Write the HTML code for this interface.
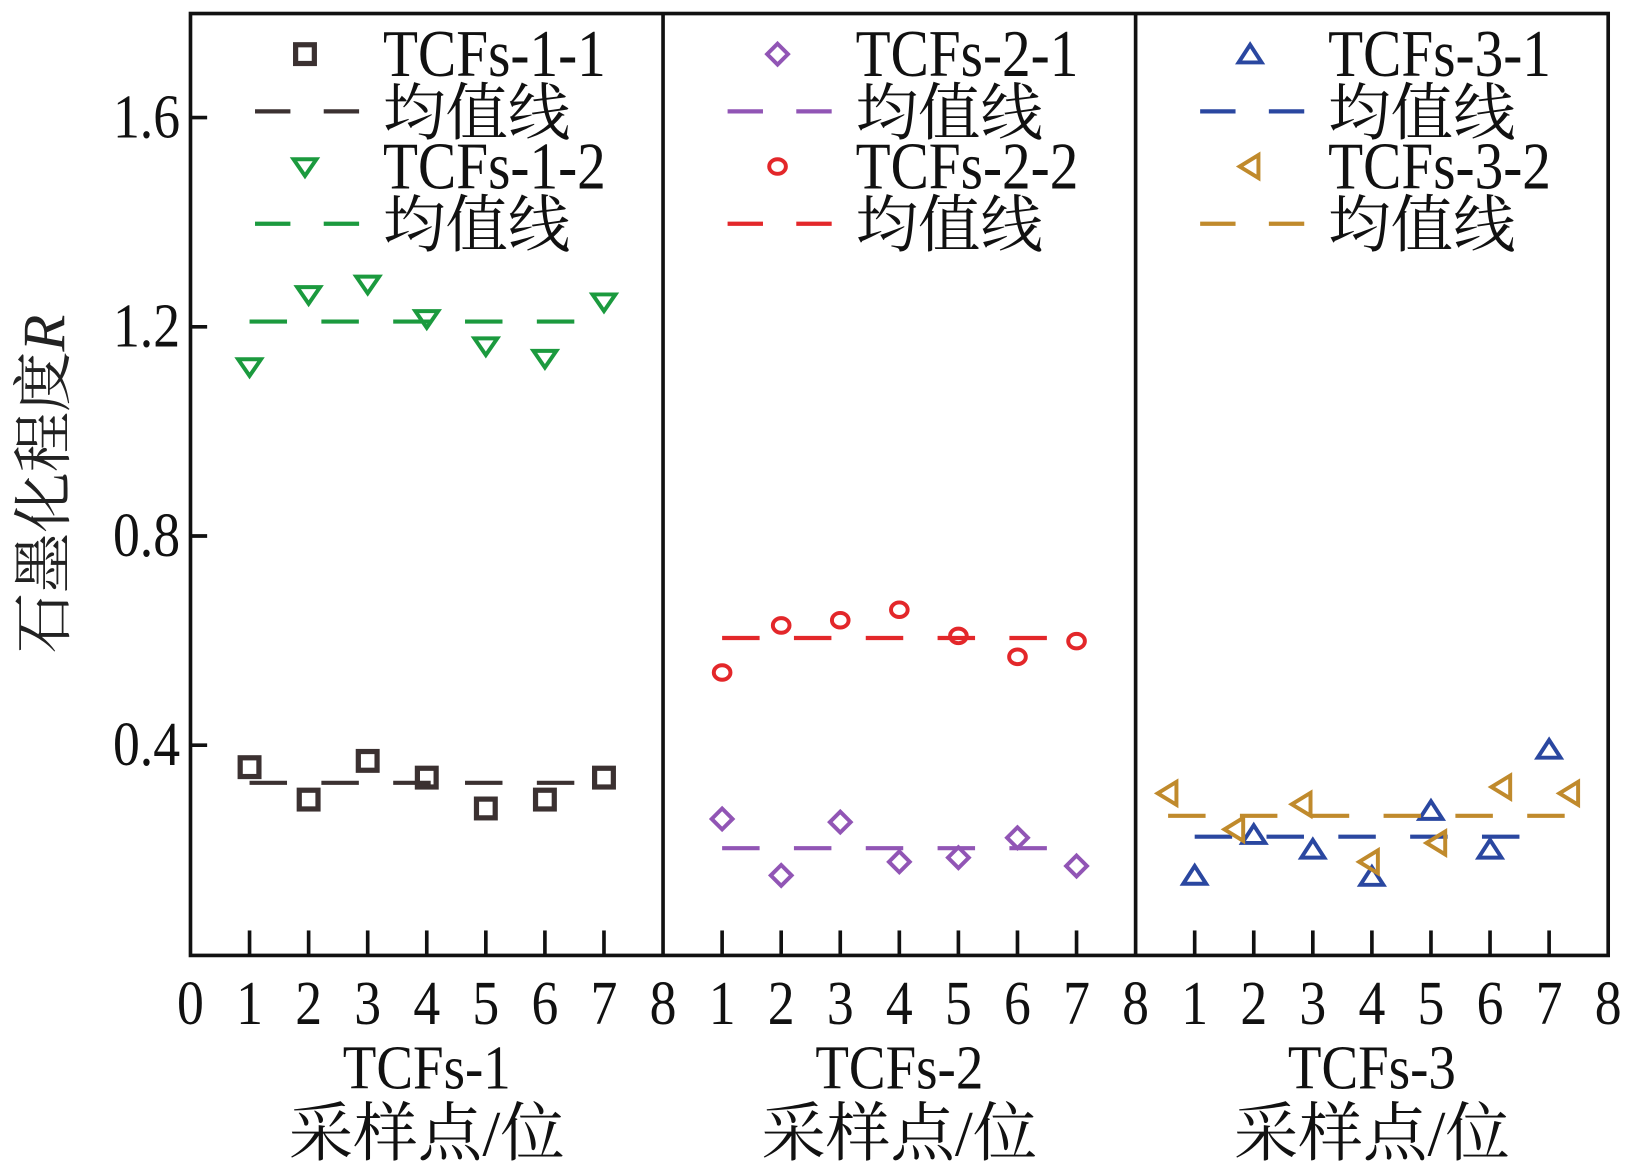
<!DOCTYPE html>
<html><head><meta charset="utf-8"><style>html,body{margin:0;padding:0;background:#fff}svg{display:block}</style></head>
<body>
<svg id="chart" width="1629" height="1174" viewBox="0 0 1565 1128" preserveAspectRatio="none" xmlns="http://www.w3.org/2000/svg" font-family="'Liberation Serif','Noto Serif CJK SC',serif"></svg>
<script>
const panelNames = ["TCFs-1","TCFs-2","TCFs-3"];
const xs = [1,2,3,4,5,6,7];
const s11 = [0.358,0.296,0.370,0.338,0.279,0.296,0.338];
const s12 = [1.124,1.262,1.282,1.216,1.164,1.140,1.248];
const s21 = [0.259,0.151,0.253,0.177,0.185,0.223,0.169];
const s22 = [0.539,0.629,0.639,0.659,0.609,0.569,0.599];
const s31 = [0.151,0.229,0.201,0.149,0.275,0.201,0.392];
const s32 = [0.308,0.239,0.287,0.177,0.213,0.320,0.308];
const s32x = [0.55,1.68,2.82,3.96,5.1,6.2,7.35];
const means = [0.328,1.210,0.203,0.605,0.225,0.265];
const yTicks = [0.4,0.8,1.2,1.6];
const xTickLabels = [0,1,2,3,4,5,6,7,8];

const NS="http://www.w3.org/2000/svg", svg=document.getElementById('chart');
const L=183,R=1545,T=13,B=918,Y0=917,PW=(R-L)/3,UX=PW/8;
const yS=v=>Y0-v*502.5;
const xS=(p,v)=>L+p*PW+v*UX;
function mk(tag,attrs,parent){const e=document.createElementNS(NS,tag);for(const k in attrs)e.setAttribute(k,attrs[k]);(parent||svg).appendChild(e);return e;}
function txt(x,y,s,size,anchor,sx,parent){const e=mk('text',{transform:`translate(${x},${y}) scale(${sx},1)`,'text-anchor':anchor,'font-size':size,fill:'#111'},parent);e.textContent=s;return e;}

const fr=mk('rect',{x:L,y:T,width:R-L,height:B-T,fill:'none',stroke:'#111','stroke-width':3.5});


for(let p=1;p<3;p++){const d=mk('line',{x1:L+p*PW,x2:L+p*PW,y1:T,y2:B,stroke:'#111','stroke-width':3.5});

}
yTicks.forEach(v=>{const y=yS(v);
const t=mk('line',{x1:L,x2:L+16,y1:y,y2:y,stroke:'#111','stroke-width':3.5});


const tx=txt(L-10,y+19,v.toFixed(1),60,'end',0.86);

});
for(let p=0;p<3;p++){
  xs.forEach(v=>{const x=xS(p,v);const t=mk('line',{x1:x,x2:x,y1:B,y2:B-24,stroke:'#111','stroke-width':3.5});
  
  });
  xTickLabels.forEach(v=>{if(p>0&&v===0)return;const tx=txt(xS(p,v),984,String(v),60,'middle',0.86);
  
  });
  const cx=xS(p,4);
  const n=txt(cx,1046,panelNames[p],60,'middle',0.88);
  
  
  const u=txt(cx,1110,'采样点/位',62,'middle',1.0);
  
  
}
const yt=mk('text',{transform:'translate(62,465) rotate(-90)','text-anchor':'middle','font-size':58,fill:'#222'});
yt.innerHTML='石墨化程度<tspan font-style="italic">R</tspan>';



function marker(type,x,y,c,parent){
  const sw=3.8;let e;
  if(type==='sq') e=mk('rect',{x:x-9,y:y-9,width:18,height:18,fill:'none',stroke:c,'stroke-width':5},parent);
  else if(type==='down') e=mk('polygon',{points:`${x-11},${y-7} ${x+11},${y-7} ${x},${y+9}`,fill:'none',stroke:c,'stroke-width':sw},parent);
  else if(type==='up') e=mk('polygon',{points:`${x-11},${y+8} ${x+11},${y+8} ${x},${y-9}`,fill:'none',stroke:c,'stroke-width':sw},parent);
  else if(type==='left') e=mk('polygon',{points:`${x+8},${y-11} ${x+8},${y+11} ${x-10},${y}`,fill:'none',stroke:c,'stroke-width':sw},parent);
  else if(type==='dia') e=mk('polygon',{points:`${x},${y-10} ${x+10},${y} ${x},${y+10} ${x-10},${y}`,fill:'none',stroke:c,'stroke-width':sw},parent);
  else e=mk('ellipse',{cx:x,cy:y,rx:8,ry:7,fill:'none',stroke:c,'stroke-width':sw},parent);
  return e;
}
const series=[
 {p:0,vals:s11,xv:xs,type:'sq',c:'#3b3131',mean:means[0],mx:[1,7],name:'TCFs-1-1',row:0},
 {p:0,vals:s12,xv:xs,type:'down',c:'#1b9a3e',mean:means[1],mx:[1,7],name:'TCFs-1-2',row:1},
 {p:1,vals:s21,xv:xs,type:'dia',c:'#9155b5',mean:means[2],mx:[1,7],name:'TCFs-2-1',row:0},
 {p:1,vals:s22,xv:xs,type:'circ',c:'#e3272a',mean:means[3],mx:[1,7],name:'TCFs-2-2',row:1},
 {p:2,vals:s31,xv:xs,type:'up',c:'#2a47a0',mean:means[4],mx:[1,7],name:'TCFs-3-1',row:0},
 {p:2,vals:s32,xv:s32x,type:'left',c:'#c08a2c',mean:means[5],mx:[0.55,7.3],name:'TCFs-3-2',row:1},
];
series.forEach(s=>{
  const g=mk('g',{});
  
  
  const ml=mk('line',{x1:xS(s.p,s.mx[0]),x2:xS(s.p,s.mx[1]),y1:yS(s.mean),y2:yS(s.mean),stroke:s.c,'stroke-width':4,'stroke-dasharray':'36 33'},g);
  
  
  s.vals.forEach((v,i)=>{const m=marker(s.type,xS(s.p,s.xv[i]),yS(v),s.c,g);
  
  });
  const lx=L+s.p*PW, r0=52+s.row*108;
  const lg=mk('g',{});
  
  
  marker(s.type,lx+110,r0,s.c,lg);
  txt(lx+185,r0+21,s.name,64,'start',0.86,lg);
  mk('line',{x1:lx+62,x2:lx+162,y1:r0+55,y2:r0+55,stroke:s.c,'stroke-width':4,'stroke-dasharray':'34 32'},lg);
  txt(lx+185,r0+77,'均值线',60,'start',1.0,lg);
});
</script>
</body></html>
